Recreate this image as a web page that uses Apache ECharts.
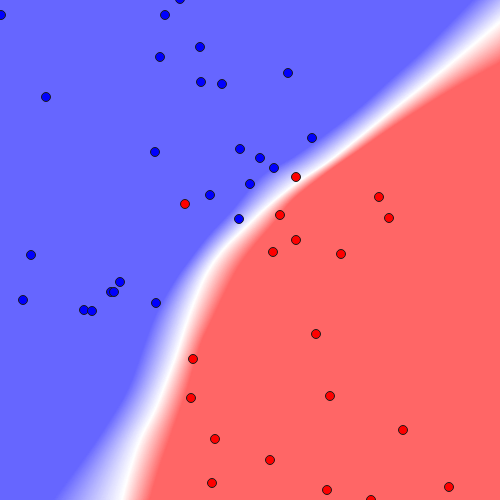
<!DOCTYPE html>
<html>
<head>
<meta charset="utf-8">
<script src="https://cdn.jsdelivr.net/npm/echarts@6/dist/echarts.min.js"></script>
<style>html,body{margin:0;padding:0;background:#fff}#c{width:500px;height:500px}</style>
</head>
<body>
<div id="c"></div>
<script>
// Class 0 (blue) sample points, [x, y] in plot units (y grows downward)
const bluePoints = [
  [1,15],[180,-1],[165,15],[200,47],[160,57],[46,97],[288,73],[201,82],[222,84],
  [312,138],[155,152],[240,149],[260,158],[274,168],[250,184],[210,195],[239,219],
  [31,255],[120,282],[111,292],[114,292],[23,300],[84,310],[92,311],[156,303]
];
// Class 1 (red) sample points
const redPoints = [
  [185,204],[296,177],[379,197],[389,218],[280,215],[296,240],[273,252],[341,254],
  [316,334],[193,359],[191,398],[330,396],[215,439],[403,430],[270,460],[212,483],
  [327,490],[449,487],[371,500]
];
// Decision-function level curves (-1, 0, +1)
const levelMinus1 = [[505,-33],[472,0],[423,50],[393,77],[360,107],[327,133],[293,157],[260,177],[232,210],[207,237],[187,263],[175,280],[163,300],[153,320],[143,347],[127,390],[103,430],[80,463],[52,500],[40,515]];
const level0 = [[530,-3],[500,22],[467,50],[427,83],[393,110],[360,137],[327,163],[297,183],[267,207],[245,228],[223,250],[207,273],[195,300],[186,325],[177,353],[167,380],[155,410],[140,440],[129,473],[122,500],[120,515]];
const levelPlus1 = [[558,31],[500,63],[460,85],[427,105],[393,127],[360,150],[327,173],[293,200],[275,222],[255,245],[240,265],[228,287],[213,318],[200,347],[187,390],[173,430],[160,467],[150,500],[146,515]];

const BLUE_BG = [102,102,255], WHITE = [255,255,255], RED_BG = [255,102,102];

// Catmull-Rom densification (rendering only)
function smooth(pts, per) {
  const out = [];
  for (let i = 0; i < pts.length-1; i++) {
    const p0 = pts[Math.max(0,i-1)], p1 = pts[i], p2 = pts[i+1], p3 = pts[Math.min(pts.length-1,i+2)];
    for (let k = 0; k < per; k++) {
      const t = k/per, t2 = t*t, t3 = t2*t;
      const f = (a,b,c,d) => 0.5*((2*b) + (-a+c)*t + (2*a-5*b+4*c-d)*t2 + (-a+3*b-3*c+d)*t3);
      out.push([f(p0[0],p1[0],p2[0],p3[0]), f(p0[1],p1[1],p2[1],p3[1])]);
    }
  }
  out.push(pts[pts.length-1]);
  return out;
}

function resample(pts, n) {
  const cum = [0];
  for (let i = 1; i < pts.length; i++) {
    const dx = pts[i][0]-pts[i-1][0], dy = pts[i][1]-pts[i-1][1];
    cum.push(cum[i-1] + Math.sqrt(dx*dx+dy*dy));
  }
  const total = cum[cum.length-1];
  const out = [];
  let s = 1;
  for (let k = 0; k < n; k++) {
    const t = total * k / (n-1);
    while (s < pts.length-1 && cum[s] < t) s++;
    const seg = cum[s]-cum[s-1] || 1;
    const f = Math.min(1, Math.max(0, (t-cum[s-1])/seg));
    out.push([pts[s-1][0] + f*(pts[s][0]-pts[s-1][0]), pts[s-1][1] + f*(pts[s][1]-pts[s-1][1])]);
  }
  return out;
}

function mixColor(a, b, t) {
  return 'rgb(' + [0,1,2].map(i => Math.round(a[i] + (b[i]-a[i])*t)).join(',') + ')';
}

function renderBackground(params, api) {
  const toPx = arr => arr.map(p => api.coord(p));
  const N = 300;
  const B = resample(smooth(toPx(levelMinus1), 10), N);
  const W = resample(smooth(toPx(level0), 10), N);
  const R = resample(smooth(toPx(levelPlus1), 10), N);
  const closure = [api.coord([700,540]), api.coord([700,-60])];
  const children = [];
  const STEPS = 64;
  function layer(A, C, t, cA, cC) {
    const pts = A.map((p, i) => [p[0] + (C[i][0]-p[0])*t, p[1] + (C[i][1]-p[1])*t]);
    const col = mixColor(cA, cC, t);
    children.push({
      type: 'polygon',
      shape: { points: pts.concat(closure) },
      style: { fill: col, stroke: col, lineWidth: 0.5 },
      silent: true
    });
  }
  for (let k = 1; k <= STEPS; k++) layer(B, W, k/STEPS, BLUE_BG, WHITE);
  for (let k = 1; k <= STEPS; k++) layer(W, R, k/STEPS, WHITE, RED_BG);
  return { type: 'group', children };
}

const chart = echarts.init(document.getElementById('c'), null, { renderer: 'canvas' });
chart.setOption({
  animation: false,
  grid: { left: 0, right: 0, top: 0, bottom: 0, show: true, backgroundColor: '#6666ff', borderWidth: 0 },
  xAxis: { type: 'value', min: 0, max: 500, show: false },
  yAxis: { type: 'value', min: 0, max: 500, inverse: true, show: false },
  series: [
    {
      type: 'custom',
      data: [[0, 0]],
      clip: true,
      z: 1,
      silent: true,
      renderItem: renderBackground
    },
    {
      type: 'scatter',
      data: bluePoints,
      clip: false,
      z: 5,
      symbolSize: 9,
      itemStyle: { color: '#0000ff', borderColor: '#1a1a1a', borderWidth: 1, opacity: 1 }
    },
    {
      type: 'scatter',
      data: redPoints,
      clip: false,
      z: 5,
      symbolSize: 9,
      itemStyle: { color: '#ff0000', borderColor: '#1a1a1a', borderWidth: 1, opacity: 1 }
    }
  ]
});
</script>
</body>
</html>
